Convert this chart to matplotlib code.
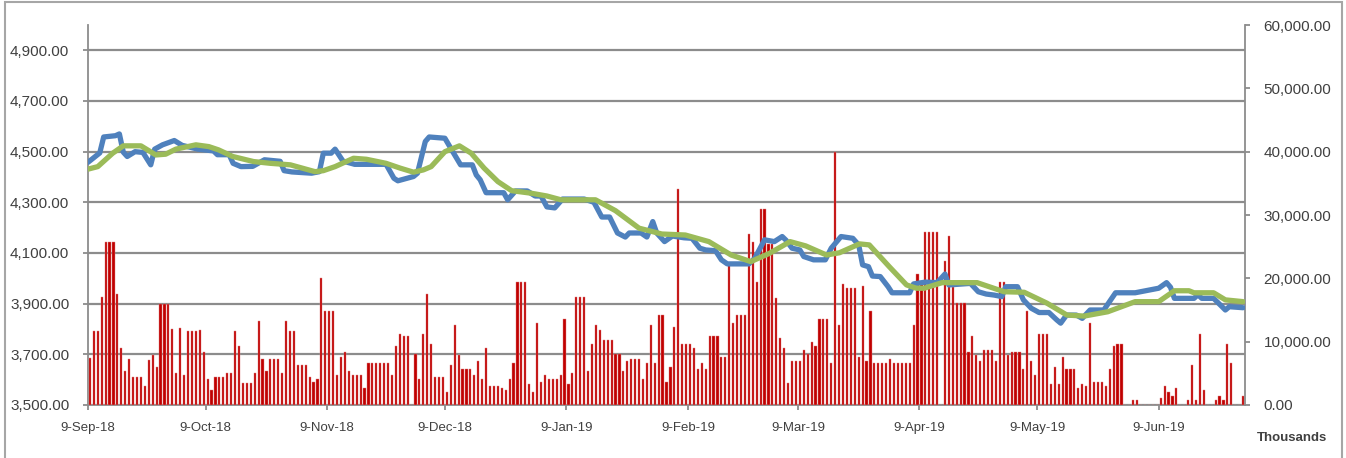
import numpy as np
import pandas as pd
import matplotlib
matplotlib.use('Agg')
import matplotlib.pyplot as plt
from matplotlib.patches import Rectangle

start = pd.Timestamp('2018-09-09')

# daily traded volume in thousands (right axis), one value per calendar day from 9-Sep-18
volume = [
    7370, 11640, 11640, 17100, 25700, 25700, 25700, 17500, 8950, 5420,
    7320, 4370, 4370, 4370, 3050, 7100, 7950, 6000, 15900, 15900,
    15900, 11950, 5050, 12200, 4690, 11640, 11640, 11640, 11900, 8320,
    4050, 2370, 4370, 4370, 4370, 5000, 5000, 11640, 9270, 3420,
    3420, 3420, 5000, 13200, 7320, 5370, 7320, 7320, 7320, 5000,
    13200, 11640, 11640, 6320, 6320, 6320, 4370, 3690, 4050, 20060,
    14850, 14850, 14850, 4690, 7640, 8320, 5370, 4690, 4690, 4690,
    2740, 6640, 6640, 6640, 6640, 6640, 6640, 4690, 9270, 11270,
    10900, 10900, 0, 8000, 4050, 11270, 17500, 9580, 4370, 4370,
    4370, 2100, 6320, 12590, 7950, 5690, 5690, 5690, 4690, 7000,
    4050, 8950, 3050, 3050, 3050, 2740, 2420, 4050, 6640, 19430,
    19430, 19430, 3370, 2100, 12900, 3690, 4690, 4050, 4050, 4050,
    4690, 13530, 3370, 5000, 17100, 17100, 17100, 5370, 9580, 12590,
    11900, 10270, 10270, 10270, 8000, 8000, 5370, 7000, 7320, 7320,
    7320, 4050, 6640, 12590, 6640, 14220, 14220, 3690, 6000, 12270,
    34180, 9580, 9580, 9580, 8950, 5690, 6640, 5690, 10900, 10900,
    10900, 7640, 7640, 22120, 12900, 14220, 14220, 14220, 27010, 25700,
    19430, 30960, 30960, 25430, 25430, 16850, 10590, 8950, 3420, 7000,
    7000, 7000, 8640, 8000, 9950, 9270, 13530, 13530, 13530, 6640,
    40020, 12590, 19110, 18430, 18430, 18430, 7640, 18800, 7000, 14850,
    6640, 6640, 6640, 6640, 7320, 6640, 6640, 6640, 6640, 6640,
    12590, 20750, 19430, 27280, 27280, 27280, 27280, 0, 22750, 26650,
    18700, 16170, 16170, 16170, 8320, 10900, 7950, 7000, 8640, 8640,
    8640, 7000, 19430, 19430, 7950, 8320, 8320, 8320, 5690, 14850,
    7000, 4690, 11270, 11270, 11270, 3370, 6000, 3370, 7640, 5690,
    5690, 5690, 2740, 3370, 3050, 12900, 3690, 3690, 3690, 3050,
    5690, 9270, 9580, 9580, 0, 0, 790, 790, 0, 0,
    0, 0, 0, 1050, 3050, 2100, 1420, 2740, 0, 0,
    790, 6320, 790, 11270, 2420, 0, 0, 790, 1420, 790,
    9580, 6640, 0, 0, 1420,
]

# closing price (blue), read at its turning points: day offset from 9-Sep-18
price_day = [0, 2, 3, 4, 7, 8, 9, 10, 12, 14, 16, 17, 19, 22, 24, 28, 32, 33, 36, 37,
             39, 42, 45, 49, 50, 52, 57, 59, 60, 62, 63, 65, 68, 76, 78, 79, 83, 84, 86, 87,
             91, 93, 95, 98, 99, 100, 101.5, 106, 107, 109, 112, 114, 115.5, 117, 119, 121, 126.5, 129, 131, 133,
             135, 137, 138, 141, 142.5, 144, 145, 147, 149, 152, 154, 156, 157.5, 160, 161.5, 163, 168.5, 170, 172.5, 175,
             177, 178, 179.5, 181.5, 182.5, 185, 188, 189.5, 192, 195, 196.5, 197.5, 199, 200, 202, 204, 205, 209.5, 210.5, 213.5,
             216.5, 218.5, 219.5, 225, 227, 229, 231, 233, 234, 237, 238.5, 240.5, 242.5, 245, 247, 248, 249.5, 252, 253.5, 255.5,
             259, 262, 267, 273, 275, 276, 277, 282, 283, 284, 287, 290, 291, 294.5]
price_val = [4458, 4483, 4495, 4558, 4563, 4570, 4498, 4481, 4500, 4497, 4448, 4510, 4527, 4544, 4525, 4510, 4503, 4488, 4488, 4454,
             4441, 4442, 4468, 4462, 4425, 4420, 4415, 4421, 4494, 4494, 4510, 4463, 4450, 4450, 4395, 4385, 4402, 4415, 4540, 4558,
             4553, 4500, 4448, 4448, 4408, 4389, 4338, 4338, 4310, 4345, 4345, 4325, 4325, 4282, 4278, 4313, 4313, 4300, 4242, 4242,
             4179, 4163, 4179, 4179, 4163, 4224, 4179, 4145, 4167, 4160, 4158, 4119, 4112, 4109, 4073, 4057, 4057, 4079, 4152, 4145,
             4165, 4150, 4119, 4112, 4086, 4073, 4073, 4119, 4165, 4158, 4132, 4053, 4046, 4009, 4007, 3967, 3943, 3943, 3978, 3985,
             3983, 4017, 3974, 3980, 3947, 3938, 3934, 3928, 3967, 3967, 3915, 3882, 3865, 3865, 3836, 3823, 3855, 3855, 3842, 3875,
             3875, 3943, 3943, 3961, 3983, 3965, 3921, 3921, 3935, 3921, 3921, 3875, 3888, 3884]

# moving average (green)
ma_day = [0, 2.5, 6.3, 9, 13.5, 17.3, 19.8, 22.4, 27.5, 30.8, 33.3, 36.9, 42.2, 46.5, 51.6, 57.9, 60, 63, 67.7, 71,
          76, 79.6, 83, 85.5, 87.5, 91, 94.7, 97.7, 101, 104.5, 108, 113, 117, 120.6, 129.4, 134.5, 140.5, 146.3, 152.3, 158.3,
          164, 169, 173.8, 179, 183, 188.3, 191.6, 196.7, 199.2, 204.3, 208.7, 211.2, 213.2, 217.8, 226.7, 233.6, 238.7, 244.5, 249.6, 254,
          260, 267, 273, 277, 280.7, 282, 287, 290, 294.5]
ma_val = [4431, 4441, 4494, 4523, 4523, 4487, 4490, 4510, 4527, 4520, 4507, 4481, 4461, 4454, 4448, 4421, 4425, 4441, 4474, 4470,
          4454, 4435, 4419, 4428, 4441, 4500, 4523, 4494, 4435, 4382, 4346, 4336, 4325, 4310, 4310, 4267, 4198, 4175, 4171, 4145,
          4092, 4066, 4099, 4145, 4128, 4092, 4101, 4136, 4132, 4046, 3974, 3961, 3961, 3983, 3983, 3947, 3945, 3902, 3855, 3851,
          3868, 3908, 3908, 3951, 3951, 3943, 3943, 3915, 3908]

tick_labels = ['9-Sep-18', '9-Oct-18', '9-Nov-18', '9-Dec-18', '9-Jan-19', '9-Feb-19',
               '9-Mar-19', '9-Apr-19', '9-May-19', '9-Jun-19']
price_ticks = [3500, 3700, 3900, 4100, 4300, 4500, 4700, 4900]
volume_ticks = [0, 10000, 20000, 30000, 40000, 50000, 60000]

plt.rcParams['font.family'] = ['Liberation Sans', 'DejaVu Sans']

txt = '#404040'
grey = '#8c8c8c'

fig = plt.figure(figsize=(13.46, 4.58), dpi=100)
pos = [88/1346, 1 - 405/458, (1245-88)/1346, 380/458]

# bottom layer: left axis with gridlines
ax = fig.add_axes(pos)
bar_x = start + pd.to_timedelta(np.arange(len(volume)) + 0.5, unit='D')
x0, x1 = start, start + pd.Timedelta(days=295)

ax.set_ylim(3500, 5000)
ax.set_yticks(price_ticks)
ax.set_yticklabels(['{:,.2f}'.format(v) for v in price_ticks], fontsize=11, color=txt)
ax.grid(axis='y', color=grey, linewidth=1.6)
ax.set_axisbelow(True)

# middle layer: bars on the right axis
ax2 = ax.twinx()
ax2.bar(bar_x, volume, width=0.55, color='#c00000', edgecolor='#e08080', linewidth=0.3)
ax2.set_ylim(0, 60000)
ax2.set_yticks(volume_ticks)
ax2.set_yticklabels(['{:,.2f}'.format(v) for v in volume_ticks], fontsize=11, color=txt)

# top layer: the price lines
ax3 = ax.twinx()
ax3.plot(start + pd.to_timedelta(price_day, unit='D'), price_val, color='#4f81bd', lw=3.8,
         solid_joinstyle='round', solid_capstyle='round')
ax3.plot(start + pd.to_timedelta(ma_day, unit='D'), ma_val, color='#9bbb59', lw=3.8,
         solid_joinstyle='round', solid_capstyle='round')
ax3.set_ylim(3500, 5000)
ax3.set_yticks([])
for s in ax3.spines.values():
    s.set_visible(False)

ax2.set_zorder(ax.get_zorder() + 1)
ax3.set_zorder(ax.get_zorder() + 2)
ax2.patch.set_visible(False)
ax3.patch.set_visible(False)

tick_dates = [start + pd.DateOffset(months=i) for i in range(len(tick_labels))]
for a in (ax, ax2, ax3):
    a.set_xlim(x0, x1)
ax.set_xticks(tick_dates)
ax.set_xticklabels(tick_labels, fontsize=9.5, color=txt)

for a in (ax, ax2):
    a.spines['top'].set_visible(False)
    for side in ('left', 'right', 'bottom'):
        a.spines[side].set_color(grey)
        a.spines[side].set_linewidth(1.3)
    a.tick_params(colors=grey, labelcolor=txt, width=1.3, length=3.5)
ax.spines['right'].set_visible(False)
ax2.spines['left'].set_visible(False)
ax2.spines['bottom'].set_visible(False)
ax.tick_params(axis='y', pad=10)
ax2.tick_params(axis='y', pad=10)
ax.tick_params(axis='x', pad=9)

fig.text(1292/1346, 1 - 438/458, 'Thousands', ha='center', va='center',
         fontsize=9.5, fontweight='bold', color=txt)

# chart-area frame
fig.patches.append(Rectangle((5/1346, -0.05), 1337/1346, 1.05 - 2/458, transform=fig.transFigure,
                             fill=False, edgecolor='#a6a6a6', linewidth=1.5))

fig.savefig('out.png', dpi=100)
